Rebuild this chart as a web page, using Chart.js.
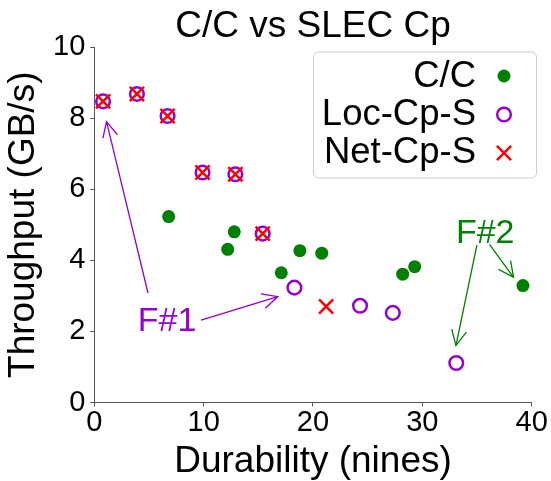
<!DOCTYPE html>
<html>
<head>
<meta charset="utf-8">
<script src="https://cdn.jsdelivr.net/npm/chart.js"></script>
<style>
  html, body { margin: 0; padding: 0; background: #ffffff; }
  #wrap { width: 551px; height: 481px; }
</style>
</head>
<body>
<div id="wrap"><canvas id="c" width="551" height="481"></canvas></div>
<script>
// ---- data ----
const seriesNames = ["C/C", "Loc-Cp-S", "Net-Cp-S"];
const ccDurability  = [6.8, 12.2, 12.8, 17.1, 18.8, 20.8, 28.2, 29.3, 39.2];
const ccThroughput  = [5.23, 4.31, 4.80, 3.65, 4.27, 4.20, 3.61, 3.82, 3.29];
const locDurability = [0.8, 3.9, 6.7, 9.9, 12.9, 15.4, 18.3, 24.3, 27.3, 33.1];
const locThroughput = [8.47, 8.68, 8.06, 6.47, 6.42, 4.75, 3.23, 2.72, 2.52, 1.11];
const netDurability = [0.8, 3.9, 6.7, 9.9, 12.9, 15.4, 21.2];
const netThroughput = [8.47, 8.68, 8.06, 6.47, 6.42, 4.75, 2.70];
const xTicks = [0, 10, 20, 30, 40];
const yTicks = [0, 2, 4, 6, 8, 10];
// annotations: label anchor and arrow start/end in data units
const annotationLabels = ["F#1", "F#2"];
const annotationLabelPos = [[6.65, 2.35], [35.75, 4.82]];
const annotationArrows = [
  [0, [4.91, 3.08], [1.12, 7.90]],
  [0, [9.76, 2.32], [16.78, 2.98]],
  [1, [34.99, 4.43], [33.07, 1.60]],
  [1, [36.14, 4.45], [38.34, 3.52]]
];

const GREEN = "#008000", VIOLET = "#9400D3", RED = "#FF0000";
const FONT = "'Liberation Sans', Arial, Helvetica, sans-serif";

function pts(xs, ys) { return xs.map((x, i) => ({ x: x, y: ys[i] })); }

const styles = [
  { style: "circle", radius: 6.5, fill: GREEN, stroke: GREEN, bw: 0 },
  { style: "circle", radius: 6.8, fill: "rgba(0,0,0,0)", stroke: VIOLET, bw: 2.5 },
  { style: "crossRot", radius: 10, fill: RED, stroke: RED, bw: 2.5 }
];

function drawMarker(ctx, s, x, y) {
  ctx.save();
  ctx.lineWidth = s.bw;
  ctx.strokeStyle = s.stroke;
  ctx.fillStyle = s.fill;
  if (s.style === "circle") {
    ctx.beginPath();
    ctx.arc(x, y, s.radius, 0, Math.PI * 2);
    ctx.fill();
    if (s.bw > 0) ctx.stroke();
  } else {
    const h = s.radius * Math.SQRT1_2;
    ctx.beginPath();
    ctx.moveTo(x - h, y - h); ctx.lineTo(x + h, y + h);
    ctx.moveTo(x + h, y - h); ctx.lineTo(x - h, y + h);
    ctx.stroke();
  }
  ctx.restore();
}

const overlayPlugin = {
  id: "overlay",
  afterDatasetsDraw(chart) {
    const ctx = chart.ctx;
    const xs = chart.scales.x, ys = chart.scales.y;
    // annotations
    const annColors = [VIOLET, GREEN];
    ctx.save();
    annotationArrows.forEach(a => {
      const col = annColors[a[0]];
      const x0 = xs.getPixelForValue(a[1][0]), y0 = ys.getPixelForValue(a[1][1]);
      const x1 = xs.getPixelForValue(a[2][0]), y1 = ys.getPixelForValue(a[2][1]);
      const ang = Math.atan2(y0 - y1, x0 - x1);
      const L = 17, w = 26 * Math.PI / 180;
      ctx.strokeStyle = col;
      ctx.lineWidth = 1.3;
      ctx.beginPath();
      ctx.moveTo(x0, y0); ctx.lineTo(x1, y1);
      ctx.moveTo(x1 + L * Math.cos(ang + w), y1 + L * Math.sin(ang + w));
      ctx.lineTo(x1, y1);
      ctx.lineTo(x1 + L * Math.cos(ang - w), y1 + L * Math.sin(ang - w));
      ctx.stroke();
    });
    ctx.font = "34px " + FONT;
    ctx.textAlign = "center";
    ctx.textBaseline = "alphabetic";
    annotationLabels.forEach((t, i) => {
      const p = annotationLabelPos[i];
      ctx.fillStyle = annColors[i];
      ctx.fillText(t, xs.getPixelForValue(p[0]), ys.getPixelForValue(p[1]) + 0.358 * 34);
    });
    ctx.restore();

    // legend (upper right)
    const bx = 313.5, by = 52, bw = 223, bh = 126, r = 5;
    ctx.save();
    ctx.beginPath();
    ctx.moveTo(bx + r, by);
    ctx.arcTo(bx + bw, by, bx + bw, by + bh, r);
    ctx.arcTo(bx + bw, by + bh, bx, by + bh, r);
    ctx.arcTo(bx, by + bh, bx, by, r);
    ctx.arcTo(bx, by, bx + bw, by, r);
    ctx.closePath();
    ctx.fillStyle = "rgba(255,255,255,0.8)";
    ctx.fill();
    ctx.strokeStyle = "#cccccc";
    ctx.lineWidth = 1;
    ctx.stroke();
    const textCenters = [74, 112, 150];
    const markerYs = [76, 114.5, 153];
    const fs = 36.5;
    ctx.font = fs + "px " + FONT;
    ctx.textAlign = "right";
    ctx.textBaseline = "alphabetic";
    chart.data.datasets.forEach((ds, i) => {
      ctx.fillStyle = "#000000";
      ctx.fillText(ds.label, 476, textCenters[i] + 0.358 * fs);
      drawMarker(ctx, styles[i], 504, markerYs[i]);
    });
    ctx.restore();
  }
};

const datasets = [
  { label: seriesNames[0], data: pts(ccDurability, ccThroughput), order: 2 },
  { label: seriesNames[1], data: pts(locDurability, locThroughput), order: 1 },
  { label: seriesNames[2], data: pts(netDurability, netThroughput), order: 0 }
].map((d, i) => Object.assign(d, {
  pointStyle: styles[i].style,
  pointRadius: styles[i].radius,
  pointHoverRadius: styles[i].radius,
  pointBackgroundColor: styles[i].fill,
  pointBorderColor: styles[i].stroke,
  pointBorderWidth: styles[i].bw,
  showLine: false
}));

new Chart(document.getElementById("c"), {
  type: "scatter",
  data: { datasets: datasets },
  plugins: [overlayPlugin],
  options: {
    responsive: false,
    animation: false,
    events: [],
    layout: { padding: { left: 0, right: 19.3, top: 0, bottom: 0 } },
    plugins: {
      legend: { display: false },
      tooltip: { enabled: false },
      title: {
        display: true,
        text: "C/C vs SLEC Cp",
        fullSize: false,
        color: "#000000",
        font: { family: FONT, size: 37, weight: "normal", lineHeight: 1.1 },
        padding: { top: 6, bottom: 0.3 }
      }
    },
    scales: {
      x: {
        type: "linear",
        min: 0, max: 40,
        afterBuildTicks: s => { s.ticks = xTicks.map(v => ({ value: v })); },
        afterFit: s => { s.height = 78.5; },
        grid: { display: true, drawOnChartArea: false, drawTicks: true, tickLength: 4, color: "#555555" },
        border: { display: true, color: "#555555", width: 1 },
        ticks: { color: "#000000", padding: 2, font: { family: FONT, size: 29, lineHeight: 1 }, maxRotation: 0 },
        title: { display: true, text: "Durability (nines)", color: "#000000",
                 font: { family: FONT, size: 37, lineHeight: 1 }, padding: { top: 0, bottom: 1.0 } }
      },
      y: {
        type: "linear",
        min: 0, max: 10,
        afterBuildTicks: s => { s.ticks = yTicks.map(v => ({ value: v })); },
        afterFit: s => { s.width = 94.3; },
        grid: { display: true, drawOnChartArea: false, drawTicks: true, tickLength: 4, color: "#555555" },
        border: { display: true, color: "#555555", width: 1 },
        ticks: { color: "#000000", padding: 5, font: { family: FONT, size: 29, lineHeight: 1 } },
        title: { display: true, text: "Throughput (GB/s)", color: "#000000",
                 font: { family: FONT, size: 37, lineHeight: 1 }, padding: { top: 5.7, bottom: 0 } }
      }
    }
  }
});
</script>
</body>
</html>
